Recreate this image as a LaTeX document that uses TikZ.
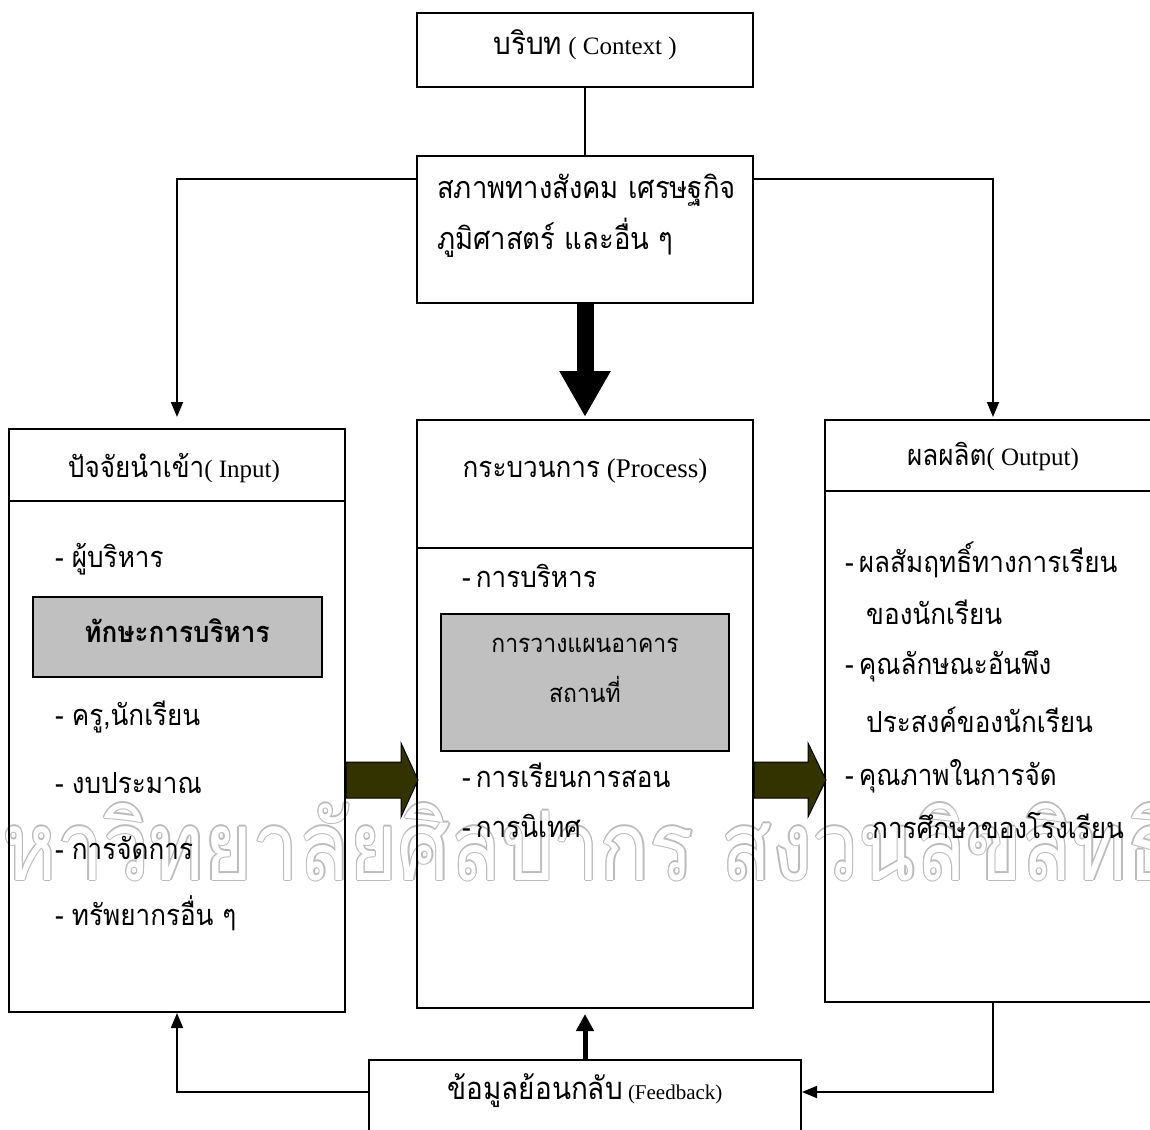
\documentclass[tikz,border=0pt]{standalone}
\usepackage{fontspec}
\usepackage{xcolor}
\usepackage{tikz}
\usetikzlibrary{arrows.meta}

\setmainfont{Liberation Serif}
\newfontfamily\thai[Script=Thai,FakeStretch=0.9]{Loma}
\newfontfamily\wmthai[Script=Thai,FakeStretch=0.86]{Loma}

\definecolor{fillgrey}{HTML}{C0C0C0}
\definecolor{darkolive}{HTML}{333300}
\definecolor{wmgrey}{HTML}{BBBBBB}

\tikzset{
  frame/.style={draw, line width=2pt, inner sep=0pt},
  greybox/.style={frame, fill=fillgrey},
  head/.style={anchor=mid, inner sep=0pt, font=\fontsize{25}{29}\selectfont},
  item/.style={anchor=mid west, inner sep=0pt, font=\thai\fontsize{29}{33}\selectfont},
  midtext/.style={anchor=mid, inner sep=0pt, font=\thai\fontsize{29}{33}\selectfont},
  link/.style={line width=1.8pt, -{Triangle[length=15pt,width=12pt]}},
  fatlink/.style={line width=5pt, -{Triangle[length=17pt,width=17pt]}},
  bigdown/.style={line width=17pt, -{Triangle[length=46pt,width=48pt]}},
  olivearrow/.style={fill=darkolive, draw=black, line width=1pt},
  watermark/.style={anchor=base west, inner sep=0pt, font=\wmthai\fontsize{96}{104}\selectfont}
}

\begin{document}
\begin{tikzpicture}[x=1pt, y=-1pt]
    \useasboundingbox (0,0) rectangle (1150,1129);
    \clip (0,0) rectangle (1150,1129);

    % watermark, outlined
    \foreach \a in {0,45,...,315}
        \node[watermark, text=wmgrey] (wm\a) at ([shift={(\a:1.3)}] -52,880) {มหาวิทยาลัยศิลปากร สงวนลิขสิทธิ์};
    \node[watermark, text=white] (wm) at (-52,880) {มหาวิทยาลัยศิลปากร สงวนลิขสิทธิ์};

    % top boxes
    \node[frame, minimum width=336pt, minimum height=74pt] (ctx) at (585,50) {};
    \node[head] (ctxtext) at (585,52) {{\thai\fontsize{31}{35}\selectfont บริบท} ( Context )};

    \node[frame, minimum width=336pt, minimum height=147pt] (env) at (585,229.5) {};
    \node[item, font=\thai\fontsize{30.5}{35}\selectfont] (env1) at (437,196) {สภาพทางสังคม เศรษฐกิจ};
    \node[item, font=\thai\fontsize{30.5}{35}\selectfont] (env2) at (437,247) {ภูมิศาสตร์ และอื่น ๆ};

    % input
    \node[frame, minimum width=336pt, minimum height=583pt] (inp) at (177,720.5) {};
    \draw[line width=2pt] (inp.west |- 0,501) -- (inp.east |- 0,501);
    \node[head] (inphead) at (174,475) {{\thai\fontsize{29}{33}\selectfont ปัจจัยนำเข้า}( Input)};
    \node[item] (inp1) at (55,565) {-\hspace{8pt}ผู้บริหาร};
    \node[greybox, minimum width=289pt, minimum height=80pt] (skill) at (177.5,637) {};
    \node[midtext, font=\thai\bfseries\fontsize{29}{33}\selectfont] (skilltext) at (177,640) {ทักษะการบริหาร};
    \node[item] (inp2) at (55,723) {-\hspace{8pt}ครู,นักเรียน};
    \node[item] (inp3) at (55,791) {-\hspace{8pt}งบประมาณ};
    \node[item] (inp4) at (55,857) {-\hspace{8pt}การจัดการ};
    \node[item] (inp5) at (55,923) {-\hspace{8pt}ทรัพยากรอื่น ๆ};

    % process
    \node[frame, minimum width=336pt, minimum height=588pt] (proc) at (585,714) {};
    \draw[line width=2pt] (proc.west |- 0,548) -- (proc.east |- 0,548);
    \node[head, font=\fontsize{27}{31}\selectfont] (prochead) at (585,475) {{\thai\fontsize{29}{33}\selectfont กระบวนการ} (Process)};
    \node[item] (proc1) at (462,585) {-\hspace{5pt}การบริหาร};
    \node[greybox, minimum width=288pt, minimum height=137pt] (plan) at (585,682.5) {};
    \node[midtext, font=\thai\fontsize{25.5}{30}\selectfont] (plan1) at (585,650) {การวางแผนอาคาร};
    \node[midtext, font=\thai\fontsize{25.5}{30}\selectfont] (plan2) at (585,700) {สถานที่};
    \node[item] (proc2) at (462,785) {-\hspace{5pt}การเรียนการสอน};
    \node[item] (proc3) at (462,835) {-\hspace{5pt}การนิเทศ};

    % output
    \node[frame, minimum width=336pt, minimum height=582pt] (outp) at (993,711) {};
    \draw[line width=2pt] (outp.west |- 0,491) -- (outp.east |- 0,491);
    \node[head] (outphead) at (993,463) {{\thai\fontsize{29}{33}\selectfont ผลผลิต}( Output)};
    \node[item] (out1) at (845,570) {-\hspace{5pt}ผลสัมฤทธิ์ทางการเรียน};
    \node[item] (out2) at (866,622) {ของนักเรียน};
    \node[item] (out3) at (845,672) {-\hspace{5pt}คุณลักษณะอันพึง};
    \node[item] (out4) at (866,730) {ประสงค์ของนักเรียน};
    \node[item] (out5) at (845,783) {-\hspace{5pt}คุณภาพในการจัด};
    \node[item] (out6) at (872,836) {การศึกษาของโรงเรียน};

    % feedback
    \node[frame, minimum width=432pt, minimum height=80pt] (fb) at (585,1100) {};
    \node[head, font=\fontsize{21}{24}\selectfont] (fbtext) at (585,1097) {{\thai\fontsize{31}{35}\selectfont ข้อมูลย้อนกลับ} (Feedback)};

    % connectors
    \draw[line width=1.4pt] (ctx) -- (env);
    \draw[link, shorten >=11pt] (env.north west) ++(0,24) -| (inp.north);
    \draw[link, shorten >=2pt] (env.north east) ++(0,24) -| (outp.north);
    \draw[bigdown, shorten >=2pt] (env) -- (proc);

    \filldraw[olivearrow] (inp.east |- 0,780) ++(0,-18) -- ++(55,0) -- ++(0,-19) -- ++(17,37)
        -- ++(-17,37) -- ++(0,-19) -- ++(-55,0) -- cycle;
    \filldraw[olivearrow] (proc.east |- 0,780) ++(0,-18) -- ++(54,0) -- ++(0,-19) -- ++(18,37)
        -- ++(-18,37) -- ++(0,-19) -- ++(-54,0) -- cycle;

    \draw[link] (fb.west |- 0,1092) -| (inp.south);
    \draw[fatlink, shorten >=5pt] (fb) -- (proc);
    \draw[link] (outp.south) |- (fb.east |- 0,1092);
\end{tikzpicture}
\end{document}
